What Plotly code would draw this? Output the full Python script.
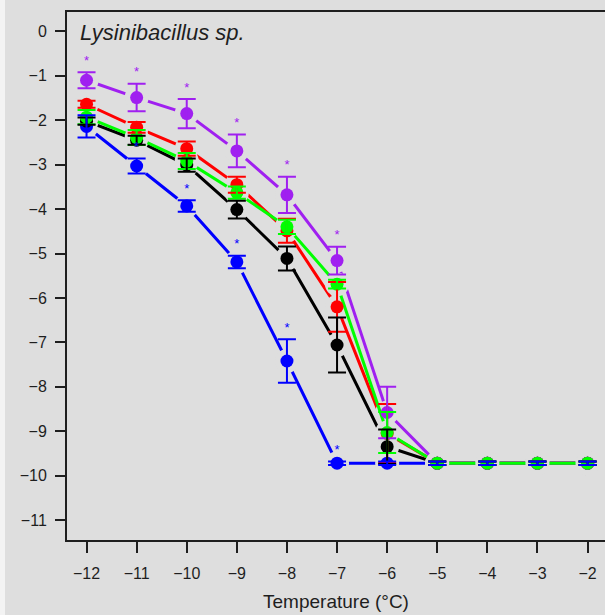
import plotly.graph_objects as go

# ---- data ----
temps = [-12, -11, -10, -9, -8, -7, -6, -5, -4, -3, -2]

blue_mean = [-2.14, -3.03, -3.93, -5.19, -7.42, -9.72, -9.72, -9.72, -9.72, -9.72, -9.72]
blue_err = [0.25, 0.17, 0.13, 0.14, 0.49, 0.04, 0.04, 0.04, 0.04, 0.04, 0.04]

black_mean = [-2.02, -2.45, -3.01, -4.01, -5.11, -7.06, -9.35, -9.72, -9.72, -9.72, -9.72]
black_err = [0.08, 0.10, 0.15, 0.20, 0.27, 0.62, 0.39, 0.04, 0.04, 0.04, 0.04]

red_mean = [-1.64, -2.16, -2.64, -3.45, -4.49, -6.20, -9.05, -9.72, -9.72, -9.72, -9.72]
red_err = [0.08, 0.12, 0.16, 0.18, 0.27, 0.56, 0.66, 0.04, 0.04, 0.04, 0.04]

purple_mean = [-1.10, -1.49, -1.85, -2.69, -3.68, -5.16, -8.58, -9.72, -9.72, -9.72, -9.72]
purple_err = [0.18, 0.31, 0.33, 0.37, 0.41, 0.31, 0.58, 0.04, 0.04, 0.04, 0.04]

green_mean = [-1.93, -2.39, -2.92, -3.63, -4.40, -5.69, -9.03, -9.72, -9.72, -9.72, -9.72]
green_err = [0.16, 0.17, 0.18, 0.14, 0.16, 0.10, 0.46, 0.04, 0.04, 0.04, 0.04]

# temperatures flagged with an asterisk
purple_sig = [-12, -11, -10, -9, -8, -7]
blue_sig = [-11, -10, -9, -8, -7]

x_ticks = [-12, -11, -10, -9, -8, -7, -6, -5, -4, -3, -2]
y_ticks = [0, -1, -2, -3, -4, -5, -6, -7, -8, -9, -10, -11]

# ---- styling ----
BG = "#dedede"
AX = "#1e1e1e"
FONT = "Liberation Sans, Arial, Helvetica, sans-serif"
C_BLUE = "#0000ff"
C_BLACK = "#000000"
C_RED = "#ff0000"
C_PURPLE = "#a020f0"
C_GREEN = "#00ff00"

series = {
    "blue": (blue_mean, blue_err, C_BLUE),
    "black": (black_mean, black_err, C_BLACK),
    "red": (red_mean, red_err, C_RED),
    "purple": (purple_mean, purple_err, C_PURPLE),
    "green": (green_mean, green_err, C_GREEN),
}
line_order = ["blue", "black", "red", "purple", "green"]
err_order = ["red", "purple", "green", "black", "blue"]

fig = go.Figure()

# each series: line with background-coloured markers that open a gap
# around every point (like R's type="b")
for name in line_order:
    m, e, c = series[name]
    fig.add_trace(go.Scatter(x=temps, y=m, mode="lines+markers",
                             line=dict(color=c, width=3),
                             marker=dict(color=BG, size=24, line=dict(width=0)),
                             hoverinfo="skip", showlegend=False))
# points
for name in line_order:
    m, e, c = series[name]
    fig.add_trace(go.Scatter(x=temps, y=m, mode="markers",
                             marker=dict(color=c, size=13, line=dict(width=0)),
                             hoverinfo="skip", showlegend=False))
# error bars
for name in err_order:
    m, e, c = series[name]
    fig.add_trace(go.Scatter(x=temps, y=m, mode="markers",
                             marker=dict(color=c, size=2, opacity=0),
                             error_y=dict(type="data", array=e, visible=True,
                                          color=c, thickness=2, width=9),
                             hoverinfo="skip", showlegend=False))

# asterisks
STAR_OFF = 0.24
for name, sig in (("purple", purple_sig), ("blue", blue_sig)):
    m, e, c = series[name]
    xs, ys = [], []
    for t in sig:
        i = temps.index(t)
        xs.append(t)
        ys.append(m[i] + e[i] + STAR_OFF)
    fig.add_trace(go.Scatter(x=xs, y=ys, mode="text", text=["*"] * len(xs),
                             textposition="middle center",
                             textfont=dict(color=c, size=13, family=FONT),
                             hoverinfo="skip", showlegend=False))

fig.add_annotation(text="<i>Lysinibacillus sp.</i>", xref="paper", yref="paper",
                   x=0.02, y=0.962, xanchor="left", yanchor="middle",
                   showarrow=False, font=dict(size=22, color=AX, family=FONT))

fig.update_layout(
    width=605, height=615,
    margin=dict(l=67, r=0, t=12, b=75),
    paper_bgcolor=BG, plot_bgcolor=BG,
    font=dict(family=FONT, color=AX, size=16),
    shapes=[dict(type="rect", xref="paper", yref="paper",
                 x0=-67 / 538, x1=-62 / 538, y0=-75 / 528, y1=1 + 12 / 528,
                 fillcolor="#f3f3f3", line=dict(width=0), layer="below")],
    xaxis=dict(range=[-12.39, -1.652], tickvals=x_ticks, showgrid=False, zeroline=False,
               showline=True, linecolor=AX, linewidth=2, mirror=True,
               ticks="outside", ticklen=11, tickwidth=2, tickcolor=AX,
               ticklabelstandoff=7,
               tickfont=dict(size=16, color=AX, family=FONT),
               title=dict(text="Temperature (°C)", font=dict(size=19, color=AX, family=FONT),
                          standoff=13)),
    yaxis=dict(range=[-11.45, 0.437], tickvals=y_ticks, showgrid=False, zeroline=False,
               showline=True, linecolor=AX, linewidth=2,
               ticks="outside", ticklen=10, tickwidth=2, tickcolor=AX,
               ticklabelstandoff=5,
               tickfont=dict(size=16, color=AX, family=FONT)),
)

fig.write_html("out.html")
